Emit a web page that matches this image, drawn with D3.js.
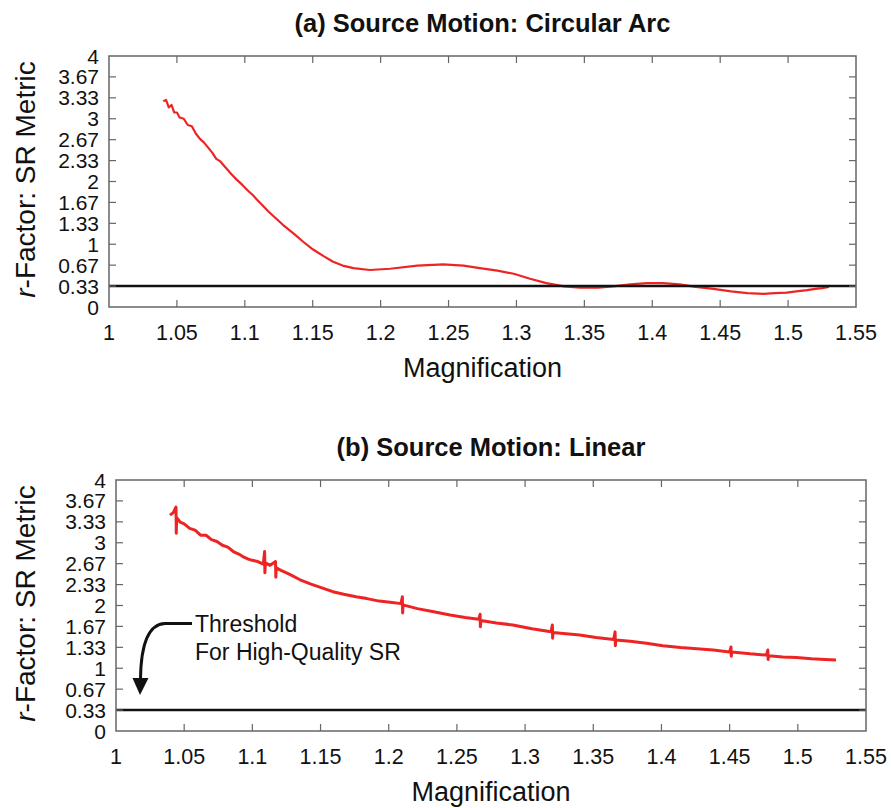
<!DOCTYPE html>
<html>
<head>
<meta charset="utf-8">
<script src="https://cdn.jsdelivr.net/npm/d3@7"></script>
<style>
  body { margin: 0; background: #fff; }
  text { font-family: Arial, "Liberation Sans", sans-serif; fill: #111; }
</style>
</head>
<body>
<svg id="chart" width="891" height="808"></svg>
<script>
// axis ticks
var xTicks = [1, 1.05, 1.1, 1.15, 1.2, 1.25, 1.3, 1.35, 1.4, 1.45, 1.5, 1.55];
var xTickLabels = ["1", "1.05", "1.1", "1.15", "1.2", "1.25", "1.3", "1.35", "1.4", "1.45", "1.5", "1.55"];
var yTicks = [0, 0.333, 0.667, 1, 1.333, 1.667, 2, 2.333, 2.667, 3, 3.333, 3.667, 4];
var yTickLabels = ["0", "0.33", "0.67", "1", "1.33", "1.67", "2", "2.33", "2.67", "3", "3.33", "3.67", "4"];

var threshold = 0.335;

// (a) circular arc: [magnification, r-factor]
var arcSeries = [
  [1.040, 3.28], [1.042, 3.30], [1.044, 3.18], [1.046, 3.22], [1.048, 3.10], [1.050, 3.10],
  [1.052, 3.02], [1.055, 3.00], [1.058, 2.90], [1.061, 2.88], [1.064, 2.76], [1.067, 2.68],
  [1.070, 2.62], [1.073, 2.54], [1.076, 2.46], [1.079, 2.36], [1.082, 2.32], [1.086, 2.22],
  [1.090, 2.12], [1.094, 2.03], [1.098, 1.95], [1.102, 1.86], [1.106, 1.78], [1.109, 1.71],
  [1.113, 1.62], [1.117, 1.53], [1.121, 1.45], [1.128, 1.31], [1.136, 1.17], [1.143, 1.04],
  [1.150, 0.92], [1.158, 0.81], [1.165, 0.72], [1.172, 0.66], [1.180, 0.62], [1.192, 0.59],
  [1.207, 0.61], [1.227, 0.66], [1.246, 0.68], [1.261, 0.66], [1.273, 0.62], [1.286, 0.58],
  [1.298, 0.53], [1.310, 0.45], [1.322, 0.38], [1.335, 0.33], [1.347, 0.31], [1.360, 0.31],
  [1.371, 0.33], [1.384, 0.36], [1.396, 0.38], [1.408, 0.38], [1.420, 0.36], [1.432, 0.32],
  [1.445, 0.29], [1.458, 0.25], [1.470, 0.22], [1.482, 0.21], [1.490, 0.22], [1.499, 0.23],
  [1.506, 0.25], [1.514, 0.27], [1.520, 0.29], [1.525, 0.30], [1.530, 0.32]
];

// (b) linear: [magnification, r-factor]
var linSeries = [
  [1.0396, 3.44], [1.042, 3.48], [1.044, 3.57], [1.0442, 3.15], [1.0445, 3.40], [1.047, 3.33],
  [1.050, 3.30], [1.054, 3.23], [1.058, 3.20], [1.062, 3.12], [1.066, 3.12], [1.070, 3.05],
  [1.074, 3.02], [1.078, 2.96], [1.082, 2.93], [1.086, 2.86], [1.090, 2.82], [1.093, 2.78],
  [1.097, 2.74], [1.100, 2.72], [1.104, 2.70], [1.108, 2.66], [1.109, 2.86], [1.1092, 2.52],
  [1.1095, 2.68], [1.113, 2.64], [1.117, 2.70], [1.1172, 2.45], [1.1175, 2.60], [1.121, 2.56],
  [1.127, 2.50], [1.135, 2.41], [1.143, 2.34], [1.151, 2.28], [1.159, 2.22], [1.167, 2.18],
  [1.176, 2.14], [1.184, 2.11], [1.193, 2.07], [1.201, 2.05], [1.209, 2.03], [1.210, 2.14],
  [1.2102, 1.88], [1.2105, 2.01], [1.221, 1.95], [1.233, 1.90], [1.245, 1.85], [1.256, 1.81],
  [1.266, 1.78], [1.267, 1.86], [1.2672, 1.66], [1.2675, 1.76], [1.279, 1.72], [1.291, 1.69],
  [1.305, 1.63], [1.319, 1.58], [1.320, 1.69], [1.3202, 1.48], [1.3205, 1.57], [1.330, 1.55],
  [1.340, 1.53], [1.352, 1.49], [1.365, 1.46], [1.366, 1.58], [1.3662, 1.36], [1.3665, 1.45],
  [1.377, 1.43], [1.389, 1.40], [1.401, 1.36], [1.414, 1.33], [1.426, 1.31], [1.438, 1.29],
  [1.450, 1.26], [1.451, 1.34], [1.4512, 1.19], [1.4515, 1.26], [1.465, 1.23], [1.477, 1.21],
  [1.478, 1.29], [1.4782, 1.14], [1.4785, 1.20], [1.489, 1.18], [1.499, 1.17], [1.510, 1.15],
  [1.520, 1.14], [1.528, 1.13]
];

var svg = d3.select("#chart");

var drawPanel = function (cfg) {
  var g = svg.append("g");
  var x = d3.scaleLinear().domain([1, 1.55]).range([cfg.left, cfg.right]);
  var y = d3.scaleLinear().domain([0, 4]).range([cfg.bottom, cfg.top]);
  var tickLen = 7;

  // title
  g.append("text")
    .attr("x", (cfg.left + cfg.right) / 2)
    .attr("y", cfg.top - 24)
    .attr("text-anchor", "middle")
    .style("font-size", "25.5px")
    .style("font-weight", "bold")
    .text(cfg.title);

  // data line
  g.append("path")
    .datum(cfg.series)
    .attr("fill", "none")
    .attr("stroke", "#ee2424")
    .attr("stroke-width", cfg.lineWidth)
    .attr("stroke-linejoin", "round")
    .attr("d", d3.line().x(function (d) { return x(d[0]); }).y(function (d) { return y(d[1]); }));

  // threshold
  g.append("line")
    .attr("x1", cfg.left).attr("x2", cfg.right)
    .attr("y1", y(threshold)).attr("y2", y(threshold))
    .attr("stroke", "#111")
    .attr("stroke-width", 2.5);

  // ticks on all four sides
  var tickColor = "#666";
  xTicks.forEach(function (t, i) {
    if (i === 0 || i === xTicks.length - 1) return;
    g.append("line").attr("x1", x(t)).attr("x2", x(t)).attr("y1", cfg.bottom).attr("y2", cfg.bottom - tickLen)
      .attr("stroke", tickColor).attr("stroke-width", 1.2);
    g.append("line").attr("x1", x(t)).attr("x2", x(t)).attr("y1", cfg.top).attr("y2", cfg.top + tickLen)
      .attr("stroke", tickColor).attr("stroke-width", 1.2);
  });
  yTicks.forEach(function (t, i) {
    if (i === 0 || i === yTicks.length - 1) return;
    g.append("line").attr("x1", cfg.left).attr("x2", cfg.left + tickLen).attr("y1", y(t)).attr("y2", y(t))
      .attr("stroke", tickColor).attr("stroke-width", 1.2);
    g.append("line").attr("x1", cfg.right).attr("x2", cfg.right - tickLen).attr("y1", y(t)).attr("y2", y(t))
      .attr("stroke", tickColor).attr("stroke-width", 1.2);
  });

  // frame
  g.append("rect")
    .attr("x", cfg.left).attr("y", cfg.top)
    .attr("width", cfg.right - cfg.left).attr("height", cfg.bottom - cfg.top)
    .attr("fill", "none").attr("stroke", tickColor).attr("stroke-width", 1.5);

  // tick labels
  g.selectAll(".xl").data(xTicks).enter().append("text")
    .attr("x", function (d) { return x(d); })
    .attr("y", cfg.bottom + 33)
    .attr("text-anchor", "middle")
    .style("font-size", "21.5px")
    .text(function (d, i) { return xTickLabels[i]; });

  g.selectAll(".yl").data(yTicks).enter().append("text")
    .attr("x", cfg.left - 10)
    .attr("y", function (d) { return y(d) + 7.5; })
    .attr("text-anchor", "end")
    .style("font-size", "21px")
    .text(function (d, i) { return yTickLabels[i]; });

  // axis labels
  g.append("text")
    .attr("x", (cfg.left + cfg.right) / 2)
    .attr("y", cfg.bottom + 70)
    .attr("text-anchor", "middle")
    .style("font-size", "27px")
    .text("Magnification");

  var yl = g.append("text")
    .attr("transform", "translate(35," + ((cfg.top + cfg.bottom) / 2 - 2) + ") rotate(-90)")
    .attr("text-anchor", "middle")
    .style("font-size", "28px");
  yl.append("tspan").style("font-style", "italic").text("r");
  yl.append("tspan").text("-Factor: SR Metric");

  return { x: x, y: y };
};

drawPanel({ left: 109, right: 856, top: 56, bottom: 307, title: "(a) Source Motion: Circular Arc", series: arcSeries, lineWidth: 2.2 });
drawPanel({ left: 116, right: 866, top: 480, bottom: 731, title: "(b) Source Motion: Linear", series: linSeries, lineWidth: 3 });

// annotation on panel (b)
svg.append("text").attr("x", 195).attr("y", 632).style("font-size", "23px").text("Threshold");
svg.append("text").attr("x", 195).attr("y", 660).style("font-size", "23px").text("For High-Quality SR");

svg.append("path")
  .attr("d", "M192,623.5 L165,623.5 C150,624 141,640 140.5,679")
  .attr("fill", "none").attr("stroke", "#111").attr("stroke-width", 3);
svg.append("path")
  .attr("d", "M132.5,678 L148.5,678 L140,695 Z")
  .attr("fill", "#111");
</script>
</body>
</html>
